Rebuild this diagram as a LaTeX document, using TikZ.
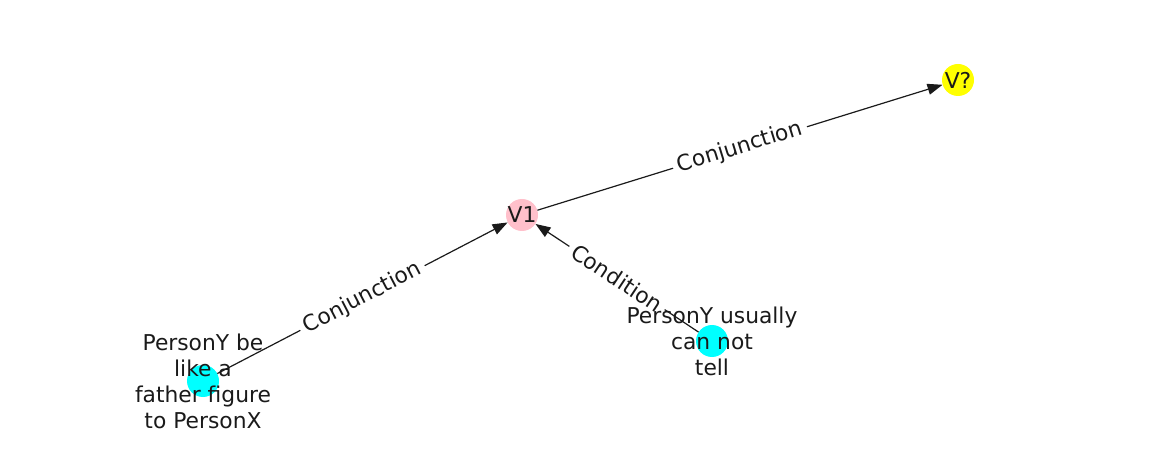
\documentclass[tikz,border=0pt]{standalone}
\usepackage{fontspec}
\setmainfont{DejaVu Sans}
\usetikzlibrary{arrows.meta}
\definecolor{vpink}{HTML}{FFC0CB}
\definecolor{vcyan}{HTML}{00FFFF}
\definecolor{vyellow}{HTML}{FFFF00}
\definecolor{ink}{HTML}{1A1A1A}

\begin{document}
\begin{tikzpicture}[x=1pt,y=-1pt,
  font=\fontsize{21.8}{26}\selectfont,
  dot/.style={circle,minimum size=32pt,inner sep=0pt},
  txt/.style={align=center,text=ink,inner sep=0pt},
  arr/.style={-{Triangle[length=15pt,width=11pt]},line width=1.2pt,color=ink},
  lab/.style={sloped,fill=white,text=ink,inner sep=5pt}]
  \useasboundingbox (0,0) rectangle (1162,462);
  % circles
  \node[dot,fill=vyellow] (vq) at (958,80) {};
  \node[dot,fill=vpink] (v1) at (522,215) {};
  \node[dot,fill=vcyan] (py) at (203,381) {};
  \node[dot,fill=vcyan] (pu) at (712,341) {};
  % edges
  \draw[arr] (py) -- node[lab] {Conjunction} (v1);
  \draw[arr] (pu) -- node[lab] {Condition} (v1);
  \draw[arr] (v1) -- node[lab] {Conjunction} (vq);
  % texts
  \node[txt] (vqt) at (vq) {V?};
  \node[txt] (v1t) at (v1) {V1};
  \node[txt] (pyt) at (py) {PersonY be\\like a\\father figure\\to PersonX};
  \node[txt] (put) at (pu) {PersonY usually\\can not\\tell};
\end{tikzpicture}
\end{document}
